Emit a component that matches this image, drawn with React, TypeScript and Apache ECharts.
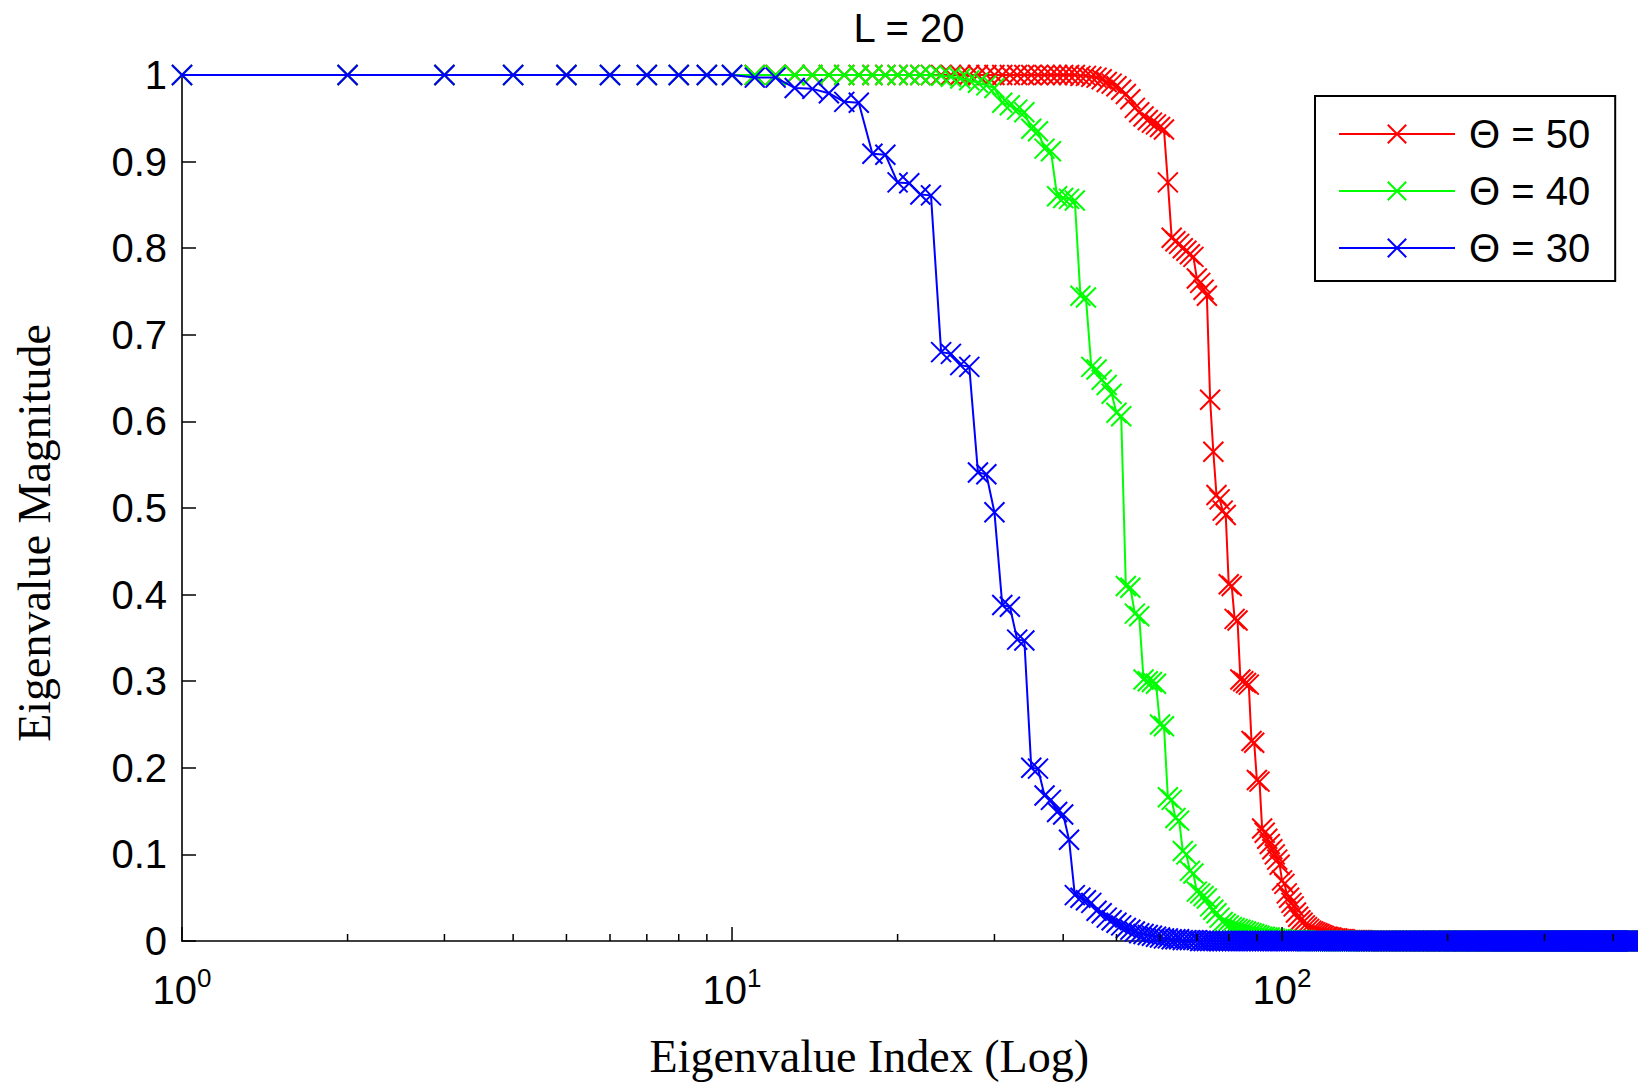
import { useEffect, useRef } from "react";
import * as echarts from "echarts";

const titleText = "L = 20";
const xAxisName = "Eigenvalue Index (Log)";
const yAxisName = "Eigenvalue Magnitude";
const seriesNames = ["Θ = 50", "Θ = 40", "Θ = 30"];
const seriesColors = ["#ff0000", "#00ff00", "#0000ff"];
const xMin = 1;
const xMax = 441;
const yMin = 0;
const yMax = 1;
const yStep = 0.1;
const xMajorTicks = [1, 10, 100];
const xMinorTicks = [2, 3, 4, 5, 6, 7, 8, 9, 20, 30, 40, 50, 60, 70, 80, 90, 200, 300, 400];

// values for eigenvalue index 1, 2, 3, ...
const redValues = [
  1,1,1,1,1,1,1,1,1,1,1,1,1,1,1,1,1,1,1,1,
  1,1,1,1,1,1,1,1,1,1,1,1,1,1,1,1,1,1,1,1,
  1,1,0.999,0.999,0.998,0.997,0.995,0.992,0.99,0.987,0.983,0.978,0.972,0.962,0.957,0.952,0.948,0.945,0.943,0.94,
  0.937,0.876,0.812,0.808,0.805,0.8,0.797,0.793,0.79,0.765,0.76,0.752,0.745,0.625,0.565,0.515,0.51,0.497,0.492,0.412,
  0.41,0.372,0.37,0.302,0.3,0.298,0.296,0.231,0.229,0.186,0.184,0.13,0.125,0.118,0.112,0.106,0.1,0.094,0.088,0.07,
  0.066,0.055,0.05,0.044,0.04,0.033,0.028,0.024,0.021,0.018,0.016,0.014,0.012,0.011,0.01,0.009,0.008,0.007,0.006,0.005,
  0.005,0.004,0.004,0.003,0.003,0.003,0.002,0.002,0.002,0.002,0.001,0.001,0.001,0.001,0.001,0.001,0.001,0.001,0.001,0.001,
  0,0,0,0,0,0,0,0,0,0,0,0,0,0,0,0,0,0,0,0,
  0,0,0,0,0,0,0,0,0,0,0,0,0,0,0,0,0,0,0,0,
  0,0,0,0,0,0,0,0,0,0,0,0,0,0,0,0,0,0,0,0,
  0,0,0,0,0,0,0,0,0,0,0,0,0,0,0,0,0,0,0,0,
  0,0,0,0,0,0,0,0,0,0,0,0,0,0,0,0,0,0,0,0,
  0,0,0,0,0,0,0,0,0,0,0,0,0,0,0,0,0,0,0,0,
  0,0,0,0,0,0,0,0,0,0,0,0,0,0,0,0,0,0,0,0,
  0,0,0,0,0,0,0,0,0,0,0,0,0,0,0,0,0,0,0,0,
  0,0,0,0,0,0,0,0,0,0,0,0,0,0,0,0,0,0,0,0,
  0,0,0,0,0,0,0,0,0,0,0,0,0,0,0,0,0,0,0,0,
  0,0,0,0,0,0,0,0,0,0,0,0,0,0,0,0,0,0,0,0,
  0,0,0,0,0,0,0,0,0,0,0,0,0,0,0,0,0,0,0,0,
  0,0,0,0,0,0,0,0,0,0,0,0,0,0,0,0,0,0,0,0,
  0,0,0,0,0,0,0,0,0,0,0,0,0,0,0,0,0,0,0,0,
  0,0,0,0,0,0,0,0,0,0,0,0,0,0,0,0,0,0,0,0,
  0,
];

const greenValues = [
  1,1,1,1,1,1,1,1,1,1,1,1,1,1,1,1,1,1,1,1,
  1,1,1,0.999,0.998,0.996,0.994,0.991,0.988,0.985,0.968,0.965,0.96,0.957,0.938,0.935,0.915,0.912,0.86,0.858,
  0.857,0.855,0.745,0.743,0.663,0.66,0.648,0.642,0.632,0.61,0.606,0.41,0.408,0.378,0.375,0.302,0.3,0.299,0.297,0.25,
  0.248,0.166,0.163,0.142,0.139,0.104,0.1,0.081,0.078,0.057,0.055,0.052,0.049,0.04,0.036,0.032,0.027,0.022,0.02,0.018,
  0.016,0.015,0.014,0.013,0.012,0.011,0.01,0.009,0.008,0.007,0.006,0.005,0.005,0.004,0.004,0.003,0.003,0.002,0.002,0.002,
  0.001,0.001,0.001,0.001,0.001,0.001,0.001,0.001,0.001,0.001,0,0,0,0,0,0,0,0,0,0,
  0,0,0,0,0,0,0,0,0,0,0,0,0,0,0,0,0,0,0,0,
  0,0,0,0,0,0,0,0,0,0,0,0,0,0,0,0,0,0,0,0,
  0,0,0,0,0,0,0,0,0,0,0,0,0,0,0,0,0,0,0,0,
  0,0,0,0,0,0,0,0,0,0,0,0,0,0,0,0,0,0,0,0,
  0,0,0,0,0,0,0,0,0,0,0,0,0,0,0,0,0,0,0,0,
  0,0,0,0,0,0,0,0,0,0,0,0,0,0,0,0,0,0,0,0,
  0,0,0,0,0,0,0,0,0,0,0,0,0,0,0,0,0,0,0,0,
  0,0,0,0,0,0,0,0,0,0,0,0,0,0,0,0,0,0,0,0,
  0,0,0,0,0,0,0,0,0,0,0,0,0,0,0,0,0,0,0,0,
  0,0,0,0,0,0,0,0,0,0,0,0,0,0,0,0,0,0,0,0,
  0,0,0,0,0,0,0,0,0,0,0,0,0,0,0,0,0,0,0,0,
  0,0,0,0,0,0,0,0,0,0,0,0,0,0,0,0,0,0,0,0,
  0,0,0,0,0,0,0,0,0,0,0,0,0,0,0,0,0,0,0,0,
  0,0,0,0,0,0,0,0,0,0,0,0,0,0,0,0,0,0,0,0,
  0,0,0,0,0,0,0,0,0,0,0,0,0,0,0,0,0,0,0,0,
  0,0,0,0,0,0,0,0,0,0,0,0,0,0,0,0,0,0,0,0,
  0,
];

const blueValues = [
  1,1,1,1,1,1,1,1,1,1,0.997,0.997,0.985,0.984,0.979,0.969,0.968,0.909,0.908,0.876,
  0.875,0.862,0.861,0.68,0.678,0.665,0.663,0.541,0.539,0.495,0.388,0.386,0.348,0.347,0.2,0.199,0.168,0.163,0.149,0.146,
  0.117,0.053,0.05,0.047,0.044,0.035,0.032,0.027,0.024,0.021,0.018,0.015,0.013,0.011,0.009,0.008,0.007,0.006,0.005,0.004,
  0.003,0.003,0.002,0.002,0.002,0.001,0.001,0.001,0.001,0.001,0,0,0,0,0,0,0,0,0,0,
  0,0,0,0,0,0,0,0,0,0,0,0,0,0,0,0,0,0,0,0,
  0,0,0,0,0,0,0,0,0,0,0,0,0,0,0,0,0,0,0,0,
  0,0,0,0,0,0,0,0,0,0,0,0,0,0,0,0,0,0,0,0,
  0,0,0,0,0,0,0,0,0,0,0,0,0,0,0,0,0,0,0,0,
  0,0,0,0,0,0,0,0,0,0,0,0,0,0,0,0,0,0,0,0,
  0,0,0,0,0,0,0,0,0,0,0,0,0,0,0,0,0,0,0,0,
  0,0,0,0,0,0,0,0,0,0,0,0,0,0,0,0,0,0,0,0,
  0,0,0,0,0,0,0,0,0,0,0,0,0,0,0,0,0,0,0,0,
  0,0,0,0,0,0,0,0,0,0,0,0,0,0,0,0,0,0,0,0,
  0,0,0,0,0,0,0,0,0,0,0,0,0,0,0,0,0,0,0,0,
  0,0,0,0,0,0,0,0,0,0,0,0,0,0,0,0,0,0,0,0,
  0,0,0,0,0,0,0,0,0,0,0,0,0,0,0,0,0,0,0,0,
  0,0,0,0,0,0,0,0,0,0,0,0,0,0,0,0,0,0,0,0,
  0,0,0,0,0,0,0,0,0,0,0,0,0,0,0,0,0,0,0,0,
  0,0,0,0,0,0,0,0,0,0,0,0,0,0,0,0,0,0,0,0,
  0,0,0,0,0,0,0,0,0,0,0,0,0,0,0,0,0,0,0,0,
  0,0,0,0,0,0,0,0,0,0,0,0,0,0,0,0,0,0,0,0,
  0,0,0,0,0,0,0,0,0,0,0,0,0,0,0,0,0,0,0,0,
  0,
];

const allSeriesValues = [redValues, greenValues, blueValues];

const SANS = "'Liberation Sans', Arial, Helvetica, sans-serif";
const SERIF = "'Liberation Serif', 'Times New Roman', serif";
const CROSS = "path://M0,0L10,10M10,0L0,10";

export default function App() {
  const ref = useRef<HTMLDivElement>(null);

  useEffect(() => {
    document.body.style.margin = "0";
    if (!ref.current) return;
    const chart = echarts.init(ref.current, undefined, { renderer: "svg" });

    const lineSeries = allSeriesValues.map((vals, i) => ({
      name: seriesNames[i],
      type: "line",
      data: vals.map((v, k) => [k + 1, v]),
      symbol: CROSS,
      symbolSize: 20,
      showAllSymbol: true,
      clip: true,
      z: 3 + i,
      lineStyle: { color: seriesColors[i], width: 2 },
      itemStyle: { color: seriesColors[i], borderColor: seriesColors[i], borderWidth: 2 },
      emphasis: { disabled: true },
    }));

    const tickData = [
      ...xMajorTicks.map((v) => [v, 0, 14]),
      ...xMinorTicks.map((v) => [v, 0, 7]),
    ];

    const tickSeries = {
      type: "custom",
      silent: true,
      clip: false,
      z: 10,
      data: tickData,
      encode: { x: 0, y: 1 },
      renderItem: (_params: any, api: any) => {
        const p = api.coord([api.value(0), 0]);
        const len = api.value(2);
        return {
          type: "line",
          shape: { x1: p[0], y1: p[1], x2: p[0], y2: p[1] - len },
          style: { stroke: "#000", lineWidth: 1.5 },
        };
      },
    };

    chart.setOption({
      animation: false,
      backgroundColor: "#ffffff",
      title: {
        text: titleText,
        left: 909,
        top: 8,
        textAlign: "center",
        padding: 0,
        textStyle: { fontFamily: SANS, fontSize: 40, fontWeight: "normal", color: "#000", lineHeight: 40 },
      },
      grid: { left: 182, right: 1.5, top: 75, bottom: 145, containLabel: false },
      legend: {
        orient: "vertical",
        left: 1315,
        top: 96,
        data: seriesNames,
        itemWidth: 116,
        itemHeight: 23,
        itemGap: 17,
        padding: [18, 25, 13, 23],
        borderColor: "#000",
        borderWidth: 2,
        backgroundColor: "#fff",
        selectedMode: false,
        itemStyle: { borderWidth: 2 },
        textStyle: { fontFamily: SANS, fontSize: 40, color: "#000", lineHeight: 40, padding: [0, 0, 0, 9] },
      },
      xAxis: {
        type: "log",
        logBase: 10,
        min: xMin,
        max: xMax,
        axisLine: { show: true, onZero: false, lineStyle: { color: "#000", width: 1.6 } },
        axisTick: { show: false },
        minorTick: { show: false },
        splitLine: { show: false },
        axisLabel: {
          margin: 24,
          showMaxLabel: false,
          formatter: (v: number) => {
            const e = Math.round(Math.log10(v));
            if (Math.abs(Math.pow(10, e) - v) > 1e-6 * v) return "";
            return "{b|10}{e|" + e + "}";
          },
          rich: {
            b: { fontFamily: SANS, fontSize: 40, color: "#000", lineHeight: 50 },
            e: { fontFamily: SANS, fontSize: 26, color: "#000", lineHeight: 26, verticalAlign: "top" },
          },
        },
        name: xAxisName,
        nameLocation: "middle",
        nameGap: 92,
        nameTextStyle: { fontFamily: SERIF, fontSize: 46, color: "#000", lineHeight: 46, padding: [0, 80, 0, 0] },
      },
      yAxis: {
        type: "value",
        min: yMin,
        max: yMax,
        interval: yStep,
        axisLine: { show: true, onZero: false, lineStyle: { color: "#000", width: 1.6 } },
        axisTick: { show: true, inside: true, length: 14, lineStyle: { color: "#000", width: 1.5 } },
        splitLine: { show: false },
        axisLabel: { margin: 15, fontFamily: SANS, fontSize: 40, color: "#000" },
        name: yAxisName,
        nameLocation: "middle",
        nameGap: 125,
        nameTextStyle: { fontFamily: SERIF, fontSize: 46, color: "#000", lineHeight: 46, padding: [0, 50, 0, 0] },
      },
      tooltip: { show: false },
      series: [...lineSeries, tickSeries],
    });

    return () => chart.dispose();
  }, []);

  return (
    <div style={{ position: "fixed", left: 0, top: 0, width: 1638, height: 1086, background: "#fff" }}>
      <div ref={ref} style={{ width: 1638, height: 1086 }} />
    </div>
  );
}
